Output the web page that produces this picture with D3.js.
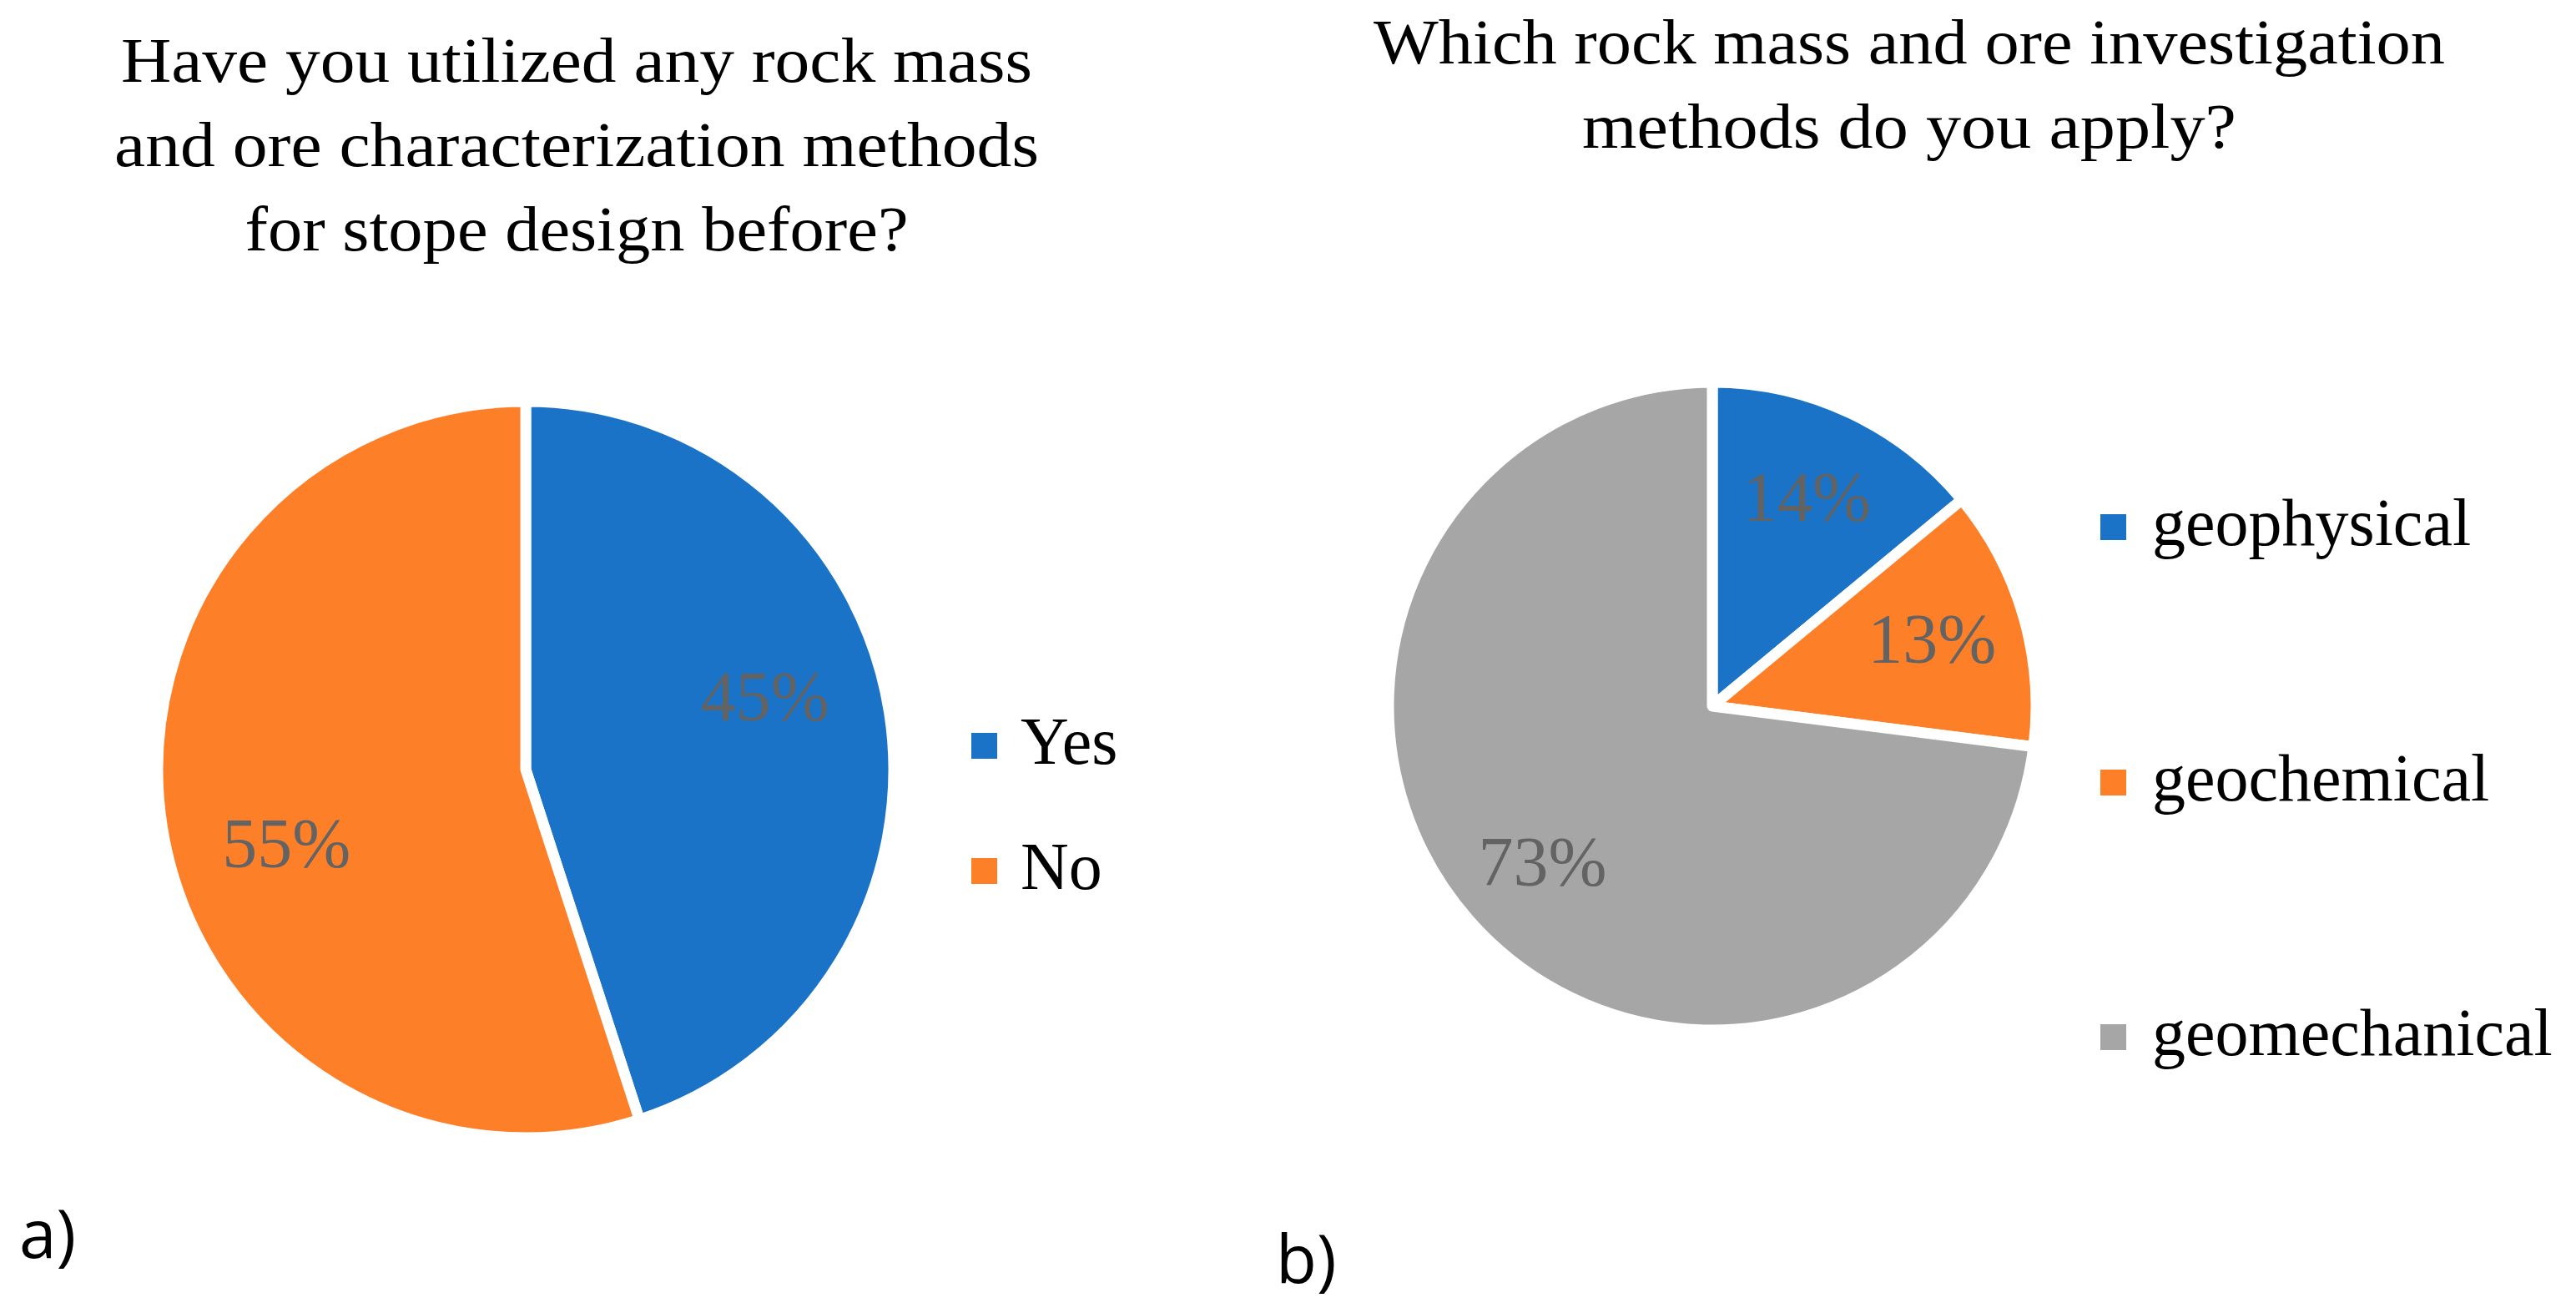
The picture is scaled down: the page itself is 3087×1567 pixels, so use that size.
<!DOCTYPE html>
<html><head><meta charset="utf-8">
<script src="https://cdn.jsdelivr.net/npm/d3@7"></script>
<style>html,body{margin:0;padding:0;background:#fff;overflow:hidden}</style>
</head><body>
<svg id="chart" width="3087" height="1567"></svg>
<script>
// ---- data ----
const categoriesA = ["Yes", "No"];
const valuesA = [45, 55];
const labelsA = ["45%", "55%"];
const titleA = ["Have you utilized any rock mass", "and ore characterization methods", "for stope design before?"];

const categoriesB = ["geophysical", "geochemical", "geomechanical"];
const valuesB = [14, 13, 73];
const labelsB = ["14%", "13%", "73%"];
const titleB = ["Which rock mass and ore investigation", "methods do you apply?"];

const colorsA = ["#1a73c7", "#fd7f28"];
const colorsB = ["#1a73c7", "#fd7f28", "#a6a6a6"];
const panelTags = ["a)", "b)"];

// ---- layout ----
const svg = d3.select("#chart");
const serif = "'Liberation Serif', 'Times New Roman', serif";

const panels = [
  { cats: categoriesA, vals: valuesA, labels: labelsA, colors: colorsA, title: titleA,
    cx: 630, cy: 922, r: 441, labelR: 0.68, labelRot: -8,
    titleX: 691, titleY: [98, 199, 300], titleW: [1092, 1108, 795],
    legX: 1164, legY: [893, 1043], legTextX: 1223,
    tag: panelTags[0], tagX: 23, tagY: 1507 },
  { cats: categoriesB, vals: valuesB, labels: labelsB, colors: colorsB, title: titleB,
    cx: 2052, cy: 846, r: 388, labelR: 0.71, labelRot: -1,
    titleX: 2288, titleY: [76, 177], titleW: [1284, 784],
    legX: 2517, legY: [631, 937, 1242], legTextX: 2579,
    tag: panelTags[1], tagX: 1529, tagY: 1537 }
];

panels.forEach(p => {
  const g = svg.append("g");
  const pie = d3.pie().sort(null).value(d => d)(p.vals);
  const arc = d3.arc().innerRadius(0).outerRadius(p.r);
  const color = d3.scaleOrdinal().domain(p.cats).range(p.colors);

  const pg = g.append("g").attr("transform", `translate(${p.cx},${p.cy})`);
  pg.selectAll("path.slice").data(pie).join("path")
    .attr("class", "slice")
    .attr("d", arc)
    .attr("fill", (d, i) => color(p.cats[i]))
    .attr("stroke", "#fff")
    .attr("stroke-width", 13)
    .attr("stroke-linejoin", "round");

  const rot = p.labelRot * Math.PI / 180;
  const lr = p.r * p.labelR;
  pg.selectAll("text.lbl").data(pie).join("text")
    .attr("class", "lbl")
    .attr("x", d => Math.sin((d.startAngle + d.endAngle) / 2 + rot) * lr)
    .attr("y", d => -Math.cos((d.startAngle + d.endAngle) / 2 + rot) * lr + 29)
    .attr("text-anchor", "middle")
    .attr("font-family", serif)
    .attr("font-size", 84)
    .attr("fill", "#636363")
    .text((d, i) => p.labels[i]);

  // title
  g.selectAll("text.title").data(p.title).join("text")
    .attr("class", "title")
    .attr("x", p.titleX)
    .attr("y", (d, i) => p.titleY[i])
    .attr("text-anchor", "middle")
    .attr("font-family", serif)
    .attr("font-size", 76)
    .attr("fill", "#000")
    .attr("textLength", (d, i) => p.titleW[i])
    .attr("lengthAdjust", "spacingAndGlyphs")
    .text(d => d);

  // legend
  const lg = g.selectAll("g.leg").data(p.cats).join("g").attr("class", "leg");
  lg.append("rect")
    .attr("x", p.legX)
    .attr("y", (d, i) => p.legY[i] - 15)
    .attr("width", 31).attr("height", 31)
    .attr("fill", d => color(d));
  lg.append("text")
    .attr("x", p.legTextX)
    .attr("y", (d, i) => p.legY[i] + 22)
    .attr("font-family", serif)
    .attr("font-size", 80)
    .attr("fill", "#000")
    .text(d => d);

  // panel tag
  g.append("text")
    .attr("x", p.tagX).attr("y", p.tagY)
    .attr("font-family", "'Open Sans', 'DejaVu Sans', sans-serif")
    .attr("font-size", 80)
    .attr("fill", "#000")
    .text(p.tag);
});
</script>
</body></html>
